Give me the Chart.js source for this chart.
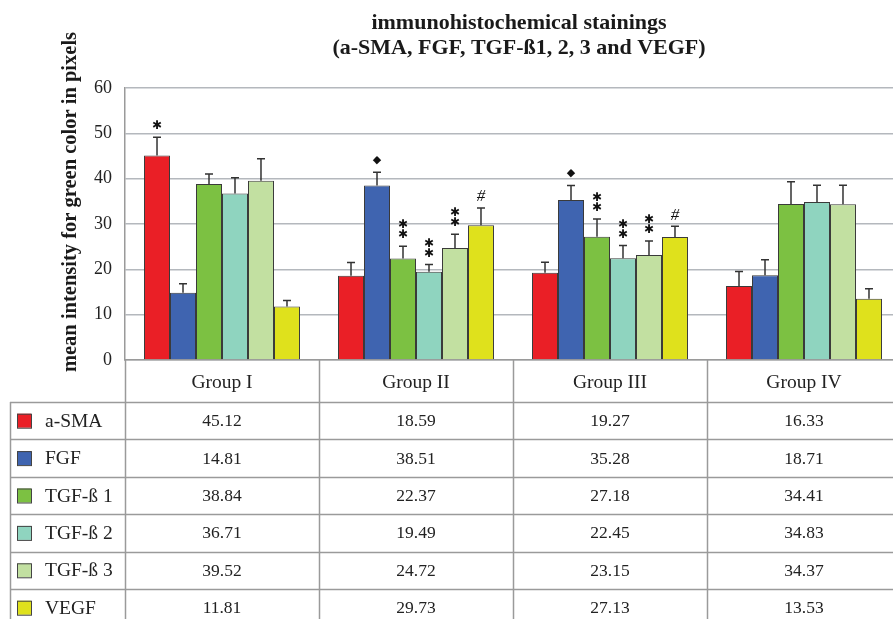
<!DOCTYPE html>
<html>
<head>
<meta charset="utf-8">
<script src="https://cdn.jsdelivr.net/npm/chart.js@4/dist/chart.umd.min.js"></script>
<style>
  html, body { margin: 0; padding: 0; background: #fff; overflow: hidden; }
  #wrap { width: 893px; height: 619px; overflow: hidden; }
</style>
</head>
<body>
<div id="wrap"><canvas id="chart" width="901" height="619"></canvas></div>
<script>
// groups along the x axis
const groups = ['Group I', 'Group II', 'Group III', 'Group IV'];
const seriesNames = ['a-SMA', 'FGF', 'TGF-ß 1', 'TGF-ß 2', 'TGF-ß 3', 'VEGF'];
const yTicks = [0, 10, 20, 30, 40, 50, 60];

// mean intensity per group
const aSMA = [45.12, 18.59, 19.27, 16.33];
const fgf  = [14.81, 38.51, 35.28, 18.71];
const tgf1 = [38.84, 22.37, 27.18, 34.41];
const tgf2 = [36.71, 19.49, 22.45, 34.83];
const tgf3 = [39.52, 24.72, 23.15, 34.37];
const vegf = [11.81, 29.73, 27.13, 13.53];

// error bars
const aSMAErr = [4.0, 2.9, 2.3, 3.2];
const fgfErr  = [2.0, 2.9, 3.2, 3.4];
const tgf1Err = [2.2, 2.7, 3.9, 4.9];
const tgf2Err = [3.5, 1.6, 2.8, 3.7];
const tgf3Err = [4.9, 3.0, 3.1, 4.2];
const vegfErr = [1.3, 3.8, 2.4, 2.2];

// significance marks above the error bars
const aSMAMarks = ['*', '', '', ''];
const fgfMarks  = ['', '◆', '◆', ''];
const tgf1Marks = ['', '**', '**', ''];
const tgf2Marks = ['', '**', '**', ''];
const tgf3Marks = ['', '**', '**', ''];
const vegfMarks = ['', '#', '#', ''];

const colors = ['#ea1f26', '#3f64b0', '#7cc142', '#8fd4bf', '#c2e0a1', '#dfe11c'];

const serif = '"Liberation Serif", "Times New Roman", serif';

const values = [aSMA, fgf, tgf1, tgf2, tgf3, vegf];
const errors = [aSMAErr, fgfErr, tgf1Err, tgf2Err, tgf3Err, vegfErr];
const marks = [aSMAMarks, fgfMarks, tgf1Marks, tgf2Marks, tgf3Marks, vegfMarks];

const datasets = seriesNames.map((name, i) => ({
  label: name,
  data: values[i],
  errors: errors[i],
  marks: marks[i],
  backgroundColor: colors[i],
  borderColor: '#3a3a3a',
  borderWidth: 1
}));

function drawMark(ctx, mark, x, capY) {
  ctx.fillStyle = '#111';
  ctx.textAlign = 'center';
  ctx.textBaseline = 'middle';
  if (mark === '*' || mark === '**') {
    ctx.font = '12px "DejaVu Sans"';
    ctx.fillText('✱', x, capY - 11);
    if (mark === '**') ctx.fillText('✱', x, capY - 21);
  } else if (mark === '◆') {
    ctx.font = '11px "DejaVu Sans"';
    ctx.fillText('◆', x, capY - 12);
  } else if (mark === '#') {
    ctx.font = 'italic 17px ' + serif;
    ctx.fillText('#', x, capY - 11);
  }
}

const extras = {
  id: 'extras',
  afterDatasetsDraw(chart) {
    const ctx = chart.ctx;
    const y = chart.scales.y;
    ctx.save();
    chart.data.datasets.forEach((ds, i) => {
      chart.getDatasetMeta(i).data.forEach((bar, j) => {
        const capY = y.getPixelForValue(ds.data[j] + ds.errors[j]);
        ctx.strokeStyle = '#333';
        ctx.lineWidth = 1.5;
        ctx.beginPath();
        ctx.moveTo(bar.x, bar.y);
        ctx.lineTo(bar.x, capY);
        ctx.moveTo(bar.x - 4, capY);
        ctx.lineTo(bar.x + 4, capY);
        ctx.stroke();
        if (ds.marks[j]) drawMark(ctx, ds.marks[j], bar.x, capY);
      });
    });
    ctx.restore();
  },
  afterDraw(chart) {
    const ctx = chart.ctx;
    const area = chart.chartArea;
    const x = chart.scales.x;
    const catW = (area.right - area.left) / groups.length;
    ctx.save();

    // title
    ctx.fillStyle = '#1a1a1a';
    ctx.textAlign = 'center';
    ctx.textBaseline = 'middle';
    ctx.font = 'bold 22px ' + serif;
    ctx.fillText('immunohistochemical stainings', 519, 23);
    ctx.fillText('(a-SMA, FGF, TGF-ß1, 2, 3 and VEGF)', 519, 48);

    // y axis title
    ctx.save();
    ctx.translate(71, 202);
    ctx.rotate(-Math.PI / 2);
    ctx.font = 'bold 20.5px ' + serif;
    ctx.fillText('mean intensity for green color in pixels', 0, 0);
    ctx.restore();

    // data table
    const top = area.bottom;
    const headBottom = top + 42;
    const rowH = 37.4;
    const tableLeft = 10;
    const right = chart.width;
    ctx.strokeStyle = '#9a9a9a';
    ctx.lineWidth = 1.5;
    ctx.beginPath();
    for (let r = 0; r < seriesNames.length; r++) {
      const ly = Math.round(headBottom + r * rowH) + 0.5;
      ctx.moveTo(tableLeft, ly);
      ctx.lineTo(right, ly);
    }
    ctx.moveTo(tableLeft + 0.5, headBottom);
    ctx.lineTo(tableLeft + 0.5, chart.height);
    for (let k = 0; k < groups.length; k++) {
      const lx = Math.round(area.left + k * catW) + 0.5;
      ctx.moveTo(lx, top);
      ctx.lineTo(lx, chart.height);
    }
    ctx.stroke();

    seriesNames.forEach((name, r) => {
      const cy = headBottom + r * rowH + rowH / 2;
      ctx.fillStyle = colors[r];
      ctx.fillRect(17, cy - 7, 14, 14);
      ctx.strokeStyle = '#444';
      ctx.lineWidth = 1;
      ctx.strokeRect(17.5, cy - 6.5, 14, 14);
      ctx.fillStyle = '#222';
      ctx.textAlign = 'left';
      ctx.font = '19.5px ' + serif;
      ctx.fillText(name, 45, cy + 1);
      ctx.textAlign = 'center';
      ctx.font = '17.5px ' + serif;
      values[r].forEach((v, j) => {
        ctx.fillText(v.toFixed(2), x.getPixelForValue(j), cy + 1);
      });
    });
    ctx.restore();
  }
};

new Chart(document.getElementById('chart'), {
  type: 'bar',
  data: { labels: groups, datasets },
  options: {
    responsive: false,
    animation: false,
    layout: { padding: { top: 88, right: 0, left: 0, bottom: 0 } },
    datasets: { bar: { categoryPercentage: 0.804, barPercentage: 1 } },
    plugins: {
      legend: { display: false },
      tooltip: { enabled: false },
      title: { display: false }
    },
    scales: {
      x: {
        grid: { display: false, drawTicks: false },
        border: { display: true, color: '#9a9a9a', width: 1.5 },
        ticks: { padding: 11, color: '#222', font: { family: serif, size: 19.5 } },
        afterFit: s => { s.height = 259; }
      },
      y: {
        min: 0,
        max: 60,
        afterFit: s => { s.width = 125; },
        afterBuildTicks: s => { s.ticks = yTicks.map(v => ({ value: v })); },
        grid: { color: '#b4b8bd', lineWidth: 1.5, drawTicks: false },
        border: { display: true, color: '#9a9a9a', width: 1.5 },
        ticks: { padding: 13, color: '#222', font: { family: serif, size: 18 } }
      }
    }
  },
  plugins: [extras]
});
</script>
</body>
</html>
